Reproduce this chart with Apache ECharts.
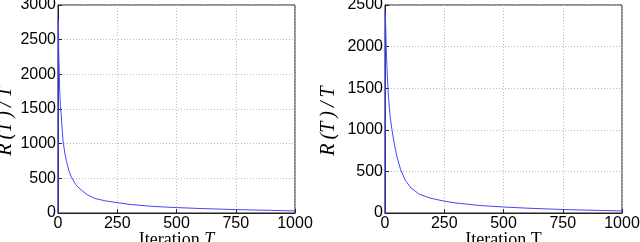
<!DOCTYPE html>
<html><head><meta charset="utf-8">
<script src="https://cdn.jsdelivr.net/npm/echarts@6/dist/echarts.min.js"></script>
<style>html,body{margin:0;padding:0;background:#fff}#c{width:640px;height:242px}</style>
</head><body><div id="c"></div>
<script>
// Left panel
const leftT = [0, 1, 2, 3, 4, 7, 10, 14, 21, 28, 35, 45, 56, 75, 98, 125, 155, 200, 250, 300, 400, 500, 600, 750, 900, 1000];
const leftV = [0, 2790, 2700, 2350, 2200, 1780, 1560, 1390, 1050, 880, 760, 620, 520, 410, 330, 260, 210, 175, 150, 125, 95, 78, 65, 49, 38, 30];
const leftYTicks = [0, 500, 1000, 1500, 2000, 2500, 3000];
// Right panel
const rightT = [0, 1, 3, 5, 8, 12, 16, 22, 30, 40, 50, 65, 85, 110, 145, 190, 250, 300, 400, 500, 600, 750, 900, 1000];
const rightV = [0, 2400, 2250, 2000, 1760, 1520, 1350, 1150, 990, 820, 680, 530, 395, 300, 225, 180, 142, 120, 90, 72, 58, 42, 31, 25];
const rightYTicks = [0, 500, 1000, 1500, 2000, 2500];
const xTicks = [0, 250, 500, 750, 1000];
const yName = 'R\u2009(T\u2009)\u2009/\u2009T';

const chart = echarts.init(document.getElementById('c'));
const tickFont = {color:'#000', fontSize:16, fontFamily:'Liberation Sans, Arial, sans-serif', formatter:v=>String(v)};
const grid = (l, r) => ({left:l, right:r, top:5, bottom:29, containLabel:false, outerBoundsMode:'none', show:true, borderColor:'#222', borderWidth:1, backgroundColor:'#fff'});
const serif = 'Liberation Serif, DejaVu Serif, serif';
function xAxis(idx, name){
  return {type:'value', gridIndex:idx, min:xTicks[0], max:xTicks[xTicks.length-1], interval:250,
    name: name, nameLocation:'middle', nameGap:18, nameMoveOverlap:false,
    nameTextStyle:{verticalAlign:'top', rich:{a:{fontFamily:serif, fontSize:18, color:'#000'}, t:{fontFamily:serif, fontStyle:'italic', fontSize:18, color:'#000'}}},
    axisLine:{lineStyle:{color:'#222'}}, axisTick:{inside:true, length:4, lineStyle:{color:'#222'}},
    axisLabel:Object.assign({margin:3}, tickFont),
    splitLine:{show:true, lineStyle:{color:'#bbb', type:[1,2], width:1}}};
}
function yAxis(idx, ticks, gap){
  return {type:'value', gridIndex:idx, min:0, max:ticks[ticks.length-1], interval:500,
    name: yName, nameLocation:'middle', nameGap:gap, nameRotate:90, nameMoveOverlap:false,
    nameTextStyle:{fontFamily:serif, fontStyle:'italic', fontSize:20, color:'#000', padding:[0,24,0,0]},
    axisLine:{show:true, lineStyle:{color:'#222'}}, axisTick:{show:true, inside:true, length:4, lineStyle:{color:'#222'}},
    axisLabel:Object.assign({margin:2}, tickFont),
    splitLine:{show:true, lineStyle:{color:'#bbb', type:[1,2], width:1}}};
}
const lineStyle = {color:'#4545ff', width:1};
chart.setOption({
  animation:false,
  grid:[grid(58,345), grid(385,18)],
  xAxis:[xAxis(0, '{a|Iteration }{t|T}'), xAxis(1, '{a|Iteration T}')],
  yAxis:[yAxis(0, leftYTicks, 42), yAxis(1, rightYTicks, 46)],
  series:[
    {type:'line', xAxisIndex:0, yAxisIndex:0, data:leftT.map((t,i)=>[t,leftV[i]]), showSymbol:false, lineStyle:lineStyle, itemStyle:{color:'#4545ff'}},
    {type:'line', xAxisIndex:1, yAxisIndex:1, data:rightT.map((t,i)=>[t,rightV[i]]), showSymbol:false, lineStyle:lineStyle, itemStyle:{color:'#4545ff'}}
  ]
});
</script></body></html>
